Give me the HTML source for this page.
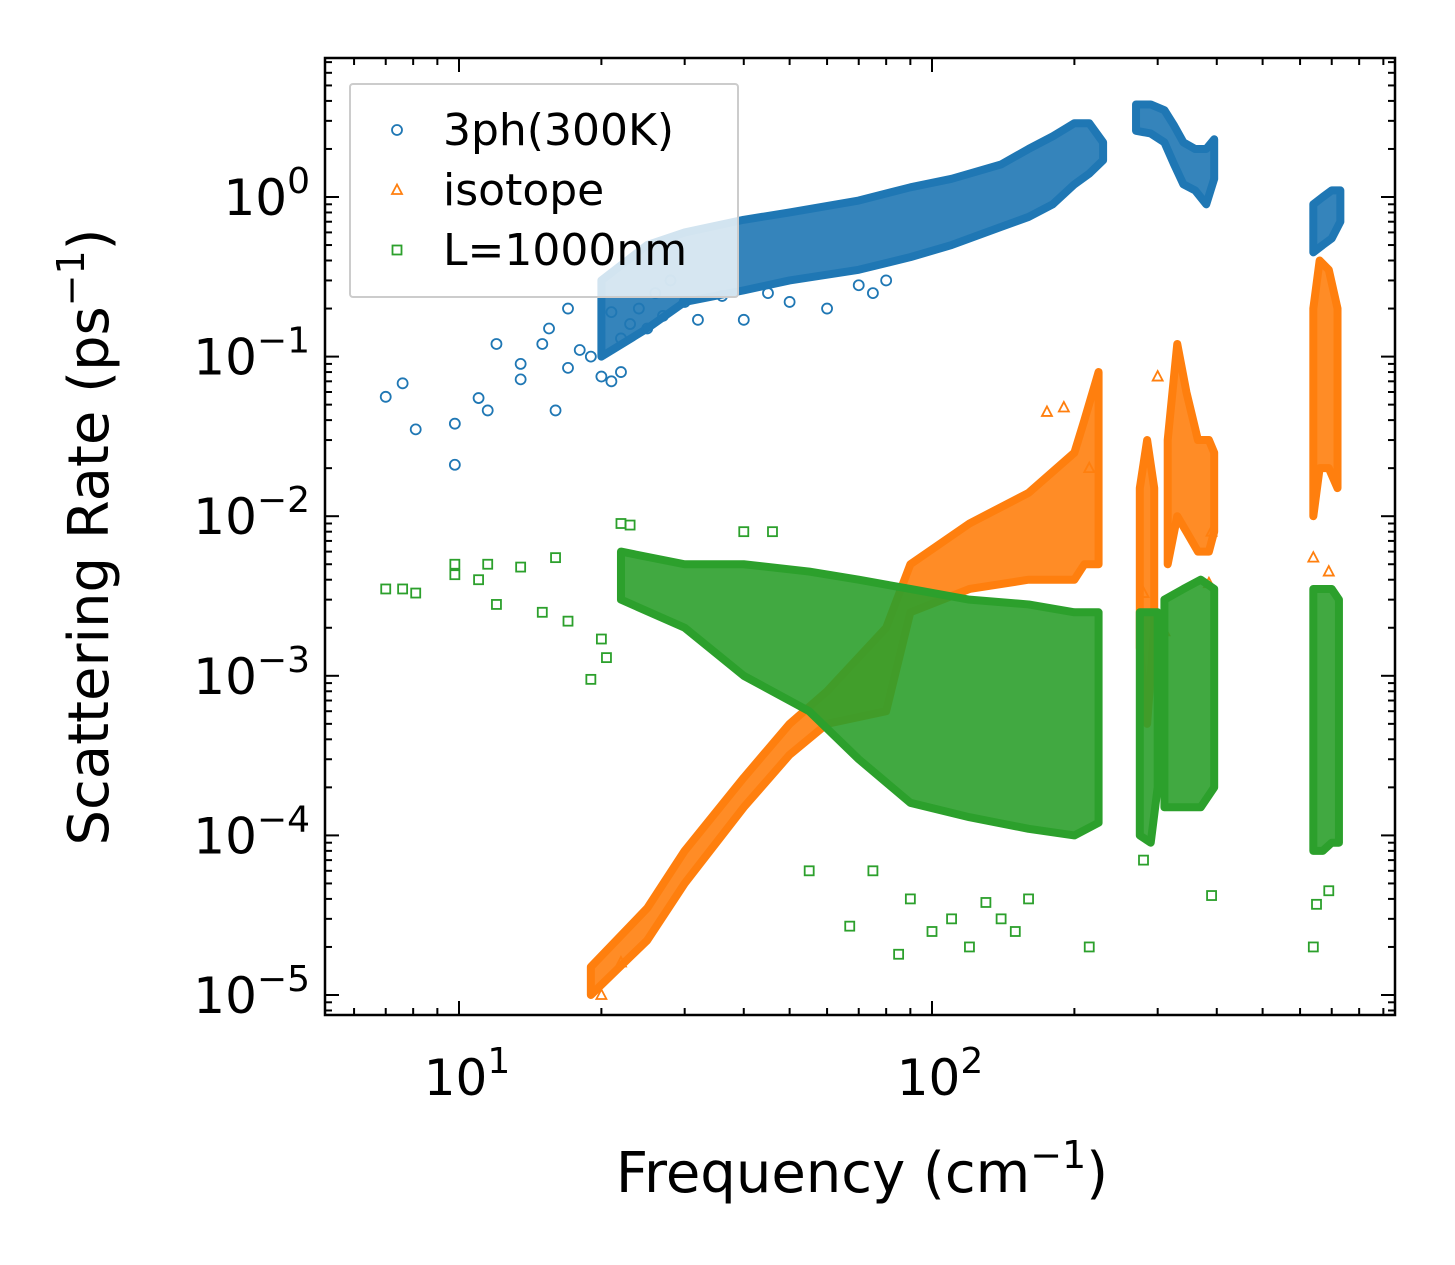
<!DOCTYPE html>
<html><head><meta charset="utf-8"><style>
html,body{margin:0;padding:0;background:#fff;}
svg{display:block;font-family:"DejaVu Sans","Liberation Sans",sans-serif;}
</style></head><body>
<svg id="chart" width="1455" height="1265" viewBox="0 0 1455 1265" xmlns="http://www.w3.org/2000/svg">
<g id="marks"></g>
<g id="axes"></g>
<g id="legend"></g>
</svg>
<script>
// ---- data ----
const xTickValues = [10, 100];
const xTickLabels = ["1", "2"];
const yTickValues = [1, 0.1, 0.01, 0.001, 0.0001, 0.00001];
const yTickLabels = ["0", "\u22121", "\u22122", "\u22123", "\u22124", "\u22125"];
const seriesNames = ["3ph(300K)", "isotope", "L=1000nm"];

// dense band envelopes: frequency, lower rate, upper rate
const blueBandFreq = [[20,25,30,40,50,70,90,110,140,160,180,200,215,230],[270,290,310,325,340,360,380,395],[640,670,700,730]];
const blueBandLo = [[0.1,0.15,0.22,0.26,0.3,0.35,0.42,0.5,0.65,0.75,0.9,1.2,1.4,1.7],[2.6,2.5,2.2,1.6,1.2,1.1,0.9,1.3],[0.45,0.5,0.55,0.7]];
const blueBandHi = [[0.3,0.5,0.6,0.72,0.8,0.95,1.15,1.3,1.6,2.0,2.4,2.9,2.9,2.2],[3.8,3.8,3.5,2.8,2.2,2.0,2.0,2.3],[0.9,1.0,1.1,1.1]];

const orangeBandFreq = [[19,25,30,40,50,60,80,90,120,160,200,210,225],[275,285,295],[315,330,345,365,385,395],[640,660,690,720]];
const orangeBandLo = [[1e-5,2.2e-5,5e-5,1.5e-4,3.2e-4,5e-4,6e-4,2.5e-3,3.5e-3,4e-3,4e-3,5e-3,5e-3],[1.5e-3,5e-4,2e-3],[5e-3,1e-2,8e-3,6e-3,6e-3,8e-3],[1e-2,2e-2,2e-2,1.5e-2]];
const orangeBandHi = [[1.5e-5,3.5e-5,8e-5,2.3e-4,5e-4,8e-4,2e-3,5e-3,9e-3,1.4e-2,2.5e-2,4e-2,8e-2],[1.5e-2,3e-2,1.5e-2],[3e-2,1.2e-1,6e-2,3e-2,3e-2,2.5e-2],[0.2,0.4,0.35,0.2]];

const greenBandFreq = [[22,30,40,55,70,90,120,160,200,225],[275,290,300],[310,340,370,395],[640,670,700,725]];
const greenBandLo = [[3e-3,2e-3,1e-3,6e-4,3e-4,1.6e-4,1.3e-4,1.1e-4,1e-4,1.2e-4],[1e-4,9e-5,2e-4],[1.5e-4,1.5e-4,1.5e-4,2e-4],[8e-5,8e-5,9e-5,9e-5]];
const greenBandHi = [[6e-3,5e-3,5e-3,4.5e-3,4e-3,3.5e-3,3e-3,2.8e-3,2.5e-3,2.5e-3],[2.5e-3,2.5e-3,2.5e-3],[3e-3,3.5e-3,4e-3,3.5e-3],[3.5e-3,3.5e-3,3.5e-3,3e-3]];

// individual scattered points
const blueFreq = [7.0,7.6,8.1,9.8,9.8,11,11.5,12,13.5,13.5,15,15.5,16,17,17,18,19,20,21,21,22,22,23,24,25,26,27,28,30,32,36,40,45,50,60,70,75,80];
const blueRate = [0.056,0.068,0.035,0.038,0.021,0.055,0.046,0.12,0.09,0.072,0.12,0.15,0.046,0.085,0.2,0.11,0.1,0.075,0.07,0.19,0.08,0.13,0.16,0.2,0.15,0.25,0.18,0.3,0.22,0.17,0.24,0.17,0.25,0.22,0.2,0.28,0.25,0.3];
const orangeFreq = [175,190,215,280,300,310,385,390,640,690,22,20];
const orangeRate = [0.045,0.048,0.02,0.0033,0.075,0.0019,0.0038,0.008,0.0055,0.0045,1.6e-5,1e-5];
const greenFreq = [7,7.6,8.1,9.8,9.8,11,11.5,12,13.5,15,16,17,19,20,20.5,22,23,55,67,75,85,90,100,110,120,130,140,150,160,215,280,390,640,650,690,46,40];
const greenRate = [0.0035,0.0035,0.0033,0.005,0.0043,0.004,0.005,0.0028,0.0048,0.0025,0.0055,0.0022,0.00095,0.0017,0.0013,0.009,0.0088,6e-5,2.7e-5,6e-5,1.8e-5,4e-5,2.5e-5,3e-5,2e-5,3.8e-5,3e-5,2.5e-5,4e-5,2e-5,7e-5,4.2e-5,2e-5,3.7e-5,4.5e-5,0.008,0.008];

// ---- layout ----
const PL=325, PR=1395, PT=58, PB=1015;
const X10=459, XDEC=473, Y0=197, YDEC=159.6;
const NS="http://www.w3.org/2000/svg";
function xS(f){return X10+(Math.log10(f)-1)*XDEC;}
function yS(v){return Y0-Math.log10(v)*YDEC;}
function mk(tag,attrs,parent){const e=document.createElementNS(NS,tag);for(const k in attrs)e.setAttribute(k,attrs[k]);parent.appendChild(e);return e;}
const colors=["#1f77b4","#ff7f0e","#2ca02c"];
const marks=document.getElementById('marks');
const axes=document.getElementById('axes');
const legend=document.getElementById('legend');

const clip=mk('clipPath',{id:'pc'},marks);
mk('rect',{x:PL,y:PT,width:PR-PL,height:PB-PT},clip);
const gm=mk('g',{'clip-path':'url(#pc)'},marks);

function band(freqs,lo,hi,color,name){
  freqs.forEach((fs,i)=>{
    let pts=fs.map((f,j)=>xS(f)+','+yS(hi[i][j]));
    for(let j=fs.length-1;j>=0;j--)pts.push(xS(fs[j])+','+yS(lo[i][j]));
    const p=mk('polygon',{points:pts.join(' '),fill:color,stroke:color,'stroke-width':8,'stroke-linejoin':'round','fill-opacity':0.9},gm);
    
    
  });
}
function marker(type,cx,cy,color,parent){
  let e;
  if(type===0)e=mk('circle',{cx:cx,cy:cy,r:5,fill:'none',stroke:color,'stroke-width':1.8},parent);
  else if(type===1)e=mk('polygon',{points:`${cx},${cy-5.5} ${cx-5},${cy+4} ${cx+5},${cy+4}`,fill:'none',stroke:color,'stroke-width':1.8},parent);
  else e=mk('rect',{x:cx-4.5,y:cy-4.5,width:9,height:9,fill:'none',stroke:color,'stroke-width':1.8},parent);
  return e;
}
function points(fr,rt,type,name){
  fr.forEach((f,i)=>{
    const e=marker(type,xS(f),yS(rt[i]),colors[type],gm);
    
    
  });
}
band(blueBandFreq,blueBandLo,blueBandHi,colors[0],'3ph');
points(blueFreq,blueRate,0,'3ph');
band(orangeBandFreq,orangeBandLo,orangeBandHi,colors[1],'isotope');
points(orangeFreq,orangeRate,1,'isotope');
band(greenBandFreq,greenBandLo,greenBandHi,colors[2],'boundary');
points(greenFreq,greenRate,2,'boundary');

// ---- axes ----
const frame=mk('rect',{x:PL,y:PT,width:PR-PL,height:PB-PT,fill:'none',stroke:'#000','stroke-width':2.5},axes);


function tickLine(x1,y1,x2,y2){mk('line',{x1:x1,y1:y1,x2:x2,y2:y2,stroke:'#000','stroke-width':2},axes);}
for(let d=0;d<=2;d++){for(let m=1;m<=9;m++){const f=m*Math.pow(10,d);const x=xS(f);if(x<PL||x>PR)continue;const L=(m===1)?14:7;tickLine(x,PB,x,PB-L);tickLine(x,PT,x,PT+L);}}
xTickValues.forEach((v,i)=>{
  const t=mk('text',{x:xS(v)+8,y:1095,'font-size':50,'text-anchor':'middle',fill:'#000'},axes);
  t.innerHTML='10<tspan dy="-22" font-size="36">'+xTickLabels[i]+'</tspan>';
  
  
});
for(let d=-6;d<=0;d++){for(let m=1;m<=9;m++){const v=m*Math.pow(10,d);const y=yS(v);if(y<PT||y>PB)continue;const L=(m===1)?14:7;tickLine(PL,y,PL+L,y);tickLine(PR,y,PR-L,y);}}
yTickValues.forEach((v,i)=>{
  const t=mk('text',{x:310,y:yS(v)+18,'font-size':50,'text-anchor':'end',fill:'#000'},axes);
  t.innerHTML='10<tspan dy="-22" font-size="36">'+yTickLabels[i]+'</tspan>';
  
  
});
const xl=mk('text',{x:862,y:1192,'font-size':56,'text-anchor':'middle',fill:'#000'},axes);
xl.innerHTML='Frequency (cm<tspan dy="-24" font-size="38">\u22121</tspan><tspan dy="24">)</tspan>';


const yl=mk('text',{x:0,y:0,'font-size':56,'text-anchor':'middle',fill:'#000',transform:'translate(108,537) rotate(-90)'},axes);
yl.innerHTML='Scattering Rate (ps<tspan dy="-24" font-size="38">\u22121</tspan><tspan dy="24">)</tspan>';



// ---- legend ----
const lb=mk('rect',{x:350,y:84,width:388,height:213,fill:'#fff','fill-opacity':0.8,stroke:'#ccc','stroke-width':2,rx:3},legend);


seriesNames.forEach((n,i)=>{
  const y=130+i*60;
  const g=mk('g',{},legend);
  
  
  marker(i,397,y,colors[i],g);
  const t=mk('text',{x:443,y:y+15,'font-size':44,fill:'#000'},g);
  t.textContent=n;
});
</script>
</body></html>
